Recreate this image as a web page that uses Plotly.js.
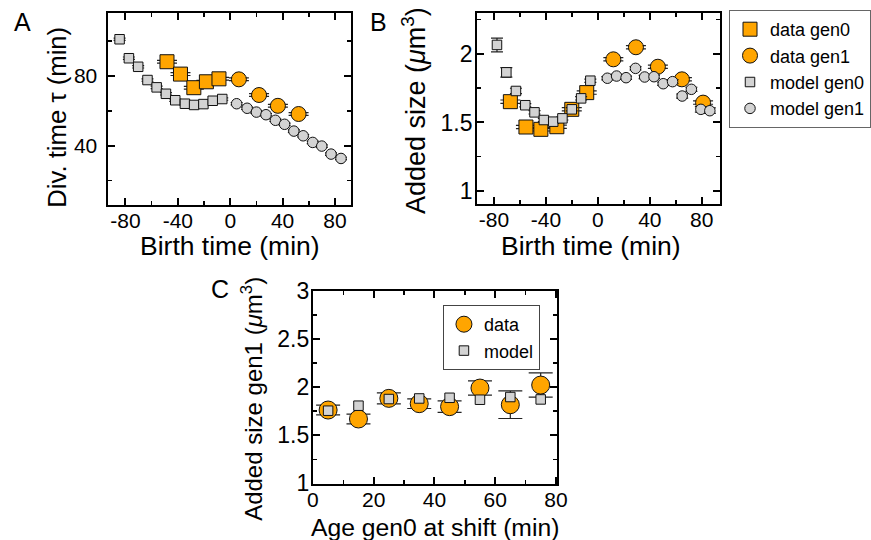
<!DOCTYPE html>
<html>
<head>
<meta charset="utf-8">
<script src="https://cdn.plot.ly/plotly-3.0.1.min.js"></script>
<style>html,body{margin:0;padding:0;background:#fff;}#chart{width:871px;height:540px;}</style>
</head>
<body>
<div id="chart"></div>
<script>
// ---------- Panel A: division time vs birth time ----------
const aDataGen0X = [-48.3, -38, -27.8, -18.2, -8.6];
const aDataGen0Y = [88.2, 81.1, 73.3, 76.7, 78.4];
const aDataGen0E = [0.8, 0.8, 0.8, 0.8, 0.8];
const aDataGen1X = [6.6, 22, 36.4, 52.2];
const aDataGen1Y = [78.1, 69.1, 62.9, 58.2];
const aDataGen1E = [0.8, 0.8, 0.8, 0.8];
const aModelGen0X = [-84.5, -77.4, -70.3, -63.2, -56.2, -49.1, -42, -34.6, -27.6, -20.5, -13.4, -6.1];
const aModelGen0Y = [101.1, 90.2, 85.3, 77.7, 73.5, 69.8, 66.1, 64.1, 63.4, 63.9, 65.8, 66.8];
const aModelGen0E = [0.7, 0.7, 0.7, 0.7, 0.7, 0.7, 0.7, 0.7, 0.7, 0.7, 0.7, 0.7];
const aModelGen1X = [4.9, 12.9, 20, 27.3, 34.5, 41.5, 48.6, 55.7, 63, 69.9, 77, 84.6];
const aModelGen1Y = [64.1, 61.5, 59.3, 57.8, 54.6, 52.3, 48.4, 45.7, 41.9, 39.8, 35.2, 32.7];
const aModelGen1E = [0.7, 0.7, 0.7, 0.7, 0.7, 0.7, 0.7, 0.7, 0.7, 0.7, 0.7, 0.7];

// ---------- Panel B: added size vs birth time ----------
const bDataGen0X = [-67.4, -55.4, -43.9, -31.6, -20.1, -8.6];
const bDataGen0Y = [1.652, 1.467, 1.450, 1.469, 1.596, 1.718];
const bDataGen0E = [0.012, 0.012, 0.012, 0.012, 0.012, 0.012];
const bDataGen1X = [11.9, 29.3, 46.2, 64.7, 81];
const bDataGen1Y = [1.961, 2.049, 1.907, 1.815, 1.645];
const bDataGen1E = [0.012, 0.012, 0.012, 0.012, 0.012];
const bModelGen0X = [-77.7, -70.5, -63.1, -55.9, -48.8, -41.6, -34.4, -27.3, -20.1, -12.9, -5.8];
const bModelGen0Y = [2.066, 1.866, 1.730, 1.626, 1.574, 1.518, 1.506, 1.530, 1.596, 1.676, 1.805];
const bModelGen0E = [0.05, 0.035, 0.02, 0.012, 0.012, 0.012, 0.012, 0.012, 0.012, 0.012, 0.012];
const bModelGen1X = [7.3, 14.4, 21.7, 29, 36, 43.2, 50.3, 57.5, 64.9, 72, 79.3, 86.2];
const bModelGen1Y = [1.823, 1.839, 1.827, 1.895, 1.832, 1.834, 1.783, 1.798, 1.693, 1.742, 1.596, 1.586];
const bModelGen1E = [0.012, 0.012, 0.012, 0.012, 0.012, 0.012, 0.012, 0.015, 0.015, 0.015, 0.02, 0.02];

// ---------- Panel C: added size gen1 vs age gen0 at shift ----------
const cAge = [5, 15, 25, 35, 45, 55, 65, 75];
const cData = [1.762, 1.669, 1.883, 1.828, 1.797, 1.990, 1.817, 2.021];
const cDataErr = [0.05, 0.051, 0.057, 0.05, 0.06, 0.074, 0.143, 0.126];
const cModel = [1.755, 1.807, 1.876, 1.882, 1.889, 1.869, 1.897, 1.872];

// ---------- tick labels ----------
const birthTickVals = [-80, -40, 0, 40, 80];
const birthTickText = ['-80', '-40', '0', '40', '80'];

const FONT = 'Liberation Sans, Arial, Helvetica, sans-serif';
const ORANGE = '#FFA500';
const GRAY = '#D3D3D3';

function errBar(arr, w) {
  return {type: 'data', array: arr, visible: true, color: '#222', thickness: 1.2, width: w};
}
function pts(x, y, e, sym, size, fill, xa, ya, name, show, group, capw) {
  return {
    type: 'scatter', mode: 'markers', x: x, y: y, xaxis: xa, yaxis: ya,
    name: name, showlegend: show, legendgroup: group,
    error_y: errBar(e, capw),
    marker: {symbol: sym, size: size, color: fill, line: {color: '#111', width: 1}}
  };
}

const traces = [
  // Panel A
  pts(aDataGen0X, aDataGen0Y, aDataGen0E, 'square', 14, ORANGE, 'x', 'y', 'data gen0', false, 'dg0', 10),
  pts(aDataGen1X, aDataGen1Y, aDataGen1E, 'circle', 15, ORANGE, 'x', 'y', 'data gen1', false, 'dg1', 10),
  pts(aModelGen0X, aModelGen0Y, aModelGen0E, 'square', 9.5, GRAY, 'x', 'y', 'model gen0', false, 'mg0', 6),
  pts(aModelGen1X, aModelGen1Y, aModelGen1E, 'circle', 10.5, GRAY, 'x', 'y', 'model gen1', false, 'mg1', 6),
  // Panel B
  pts(bDataGen0X, bDataGen0Y, bDataGen0E, 'square', 14, ORANGE, 'x2', 'y2', 'data gen0', true, 'dg0', 10),
  pts(bDataGen1X, bDataGen1Y, bDataGen1E, 'circle', 15, ORANGE, 'x2', 'y2', 'data gen1', true, 'dg1', 10),
  pts(bModelGen0X, bModelGen0Y, bModelGen0E, 'square', 9.5, GRAY, 'x2', 'y2', 'model gen0', true, 'mg0', 6),
  pts(bModelGen1X, bModelGen1Y, bModelGen1E, 'circle', 10.5, GRAY, 'x2', 'y2', 'model gen1', true, 'mg1', 6),
  // Panel C
  Object.assign(pts(cAge, cData, cDataErr, 'circle', 18, ORANGE, 'x3', 'y3', 'data', true, 'cd', 12), {legend: 'legend2'}),
  {
    type: 'scatter', mode: 'markers', x: cAge, y: cModel, xaxis: 'x3', yaxis: 'y3',
    name: 'model', legend: 'legend2', legendgroup: 'cm',
    marker: {symbol: 'square', size: 9.5, color: GRAY, line: {color: '#111', width: 1}}
  }
];

function minor(d) {
  return {ticks: 'inside', ticklen: 4, tickwidth: 1.5, tickcolor: 'black', dtick: d, tick0: 0, showgrid: false};
}
function axis(o, fs) {
  return Object.assign({
    showline: true, linecolor: 'black', linewidth: 2, mirror: 'ticks',
    ticks: 'inside', ticklen: 7, tickwidth: 2, tickcolor: 'black',
    showgrid: false, zeroline: false, fixedrange: true,
    tickfont: {family: FONT, size: fs, color: 'black'}
  }, o);
}
function title(text, x, y, size, angle) {
  return {text: text, x: x / 871, y: 1 - y / 540, xref: 'paper', yref: 'paper', showarrow: false,
    xanchor: 'center', yanchor: 'middle', textangle: angle || 0,
    font: {family: FONT, size: size, color: 'black'}};
}

const layout = {
  width: 871, height: 540,
  margin: {l: 0, r: 0, t: 0, b: 0},
  paper_bgcolor: 'white', plot_bgcolor: 'white',
  font: {family: FONT, color: 'black'},
  xaxis: axis({domain: [0.1251, 0.4045], anchor: 'y', range: [-93, 92],
    tickmode: 'array', tickvals: birthTickVals, ticktext: birthTickText, minor: minor(20),
    ticklabelstandoff: -4}, 21),
  yaxis: axis({domain: [0.6204, 0.9754], anchor: 'x', range: [6, 116], tick0: 0, dtick: 40,
    minor: minor(20), ticklabelstandoff: 5}, 21),
  xaxis2: axis({domain: [0.5503, 0.8304], anchor: 'y2', range: [-93, 94],
    tickmode: 'array', tickvals: birthTickVals, ticktext: birthTickText, minor: minor(20),
    ticklabelstandoff: -4}, 21),
  yaxis2: axis({domain: [0.6222, 0.9754], anchor: 'x2', range: [0.905, 2.297], tick0: 0, dtick: 0.5,
    minor: minor(0.25), ticklabelstandoff: -2}, 23),
  xaxis3: axis({domain: [0.3609, 0.6429], anchor: 'y3', range: [-0.01, 80.5], tick0: 0, dtick: 20,
    minor: minor(10), ticklabelstandoff: -4}, 21),
  yaxis3: axis({domain: [0.1046, 0.4617], anchor: 'x3', range: [0.999, 3.001], tick0: 0, dtick: 0.5,
    minor: minor(0.25), ticklabelstandoff: -3}, 23),
  legend: {
    x: 0.8412, y: 1 - 10 / 540, xanchor: 'left', yanchor: 'top',
    bordercolor: '#666', borderwidth: 1, bgcolor: 'white',
    font: {family: FONT, size: 18, color: 'black'}, tracegroupgap: 0, itemclick: false
  },
  legend2: {
    x: 0.5109, y: 0.4352, xanchor: 'left', yanchor: 'top',
    bordercolor: '#444', borderwidth: 1, bgcolor: 'white',
    font: {family: FONT, size: 18, color: 'black'}, tracegroupgap: 0, itemclick: false
  },
  annotations: [
    title('A', 23, 21.5, 25),
    title('B', 380.5, 21.5, 25),
    title('C', 220.7, 288.5, 25),
    title('Birth time (min)', 231, 246, 26.5),
    title('Div. time τ (min)', 57, 117, 25.7, -90),
    title('Birth time (min)', 594, 246, 26.5),
    title('Added size (<i>μ</i>m<sup>3</sup>)', 416, 111, 27, -90),
    title('Age gen0 at shift (min)', 437.5, 527, 24.7),
    title('Added size gen1 (<i>μ</i>m<sup>3</sup>)', 253, 399, 24, -90)
  ]
};

Plotly.newPlot('chart', traces, layout, {displayModeBar: false, staticPlot: true});
</script>
</body>
</html>
